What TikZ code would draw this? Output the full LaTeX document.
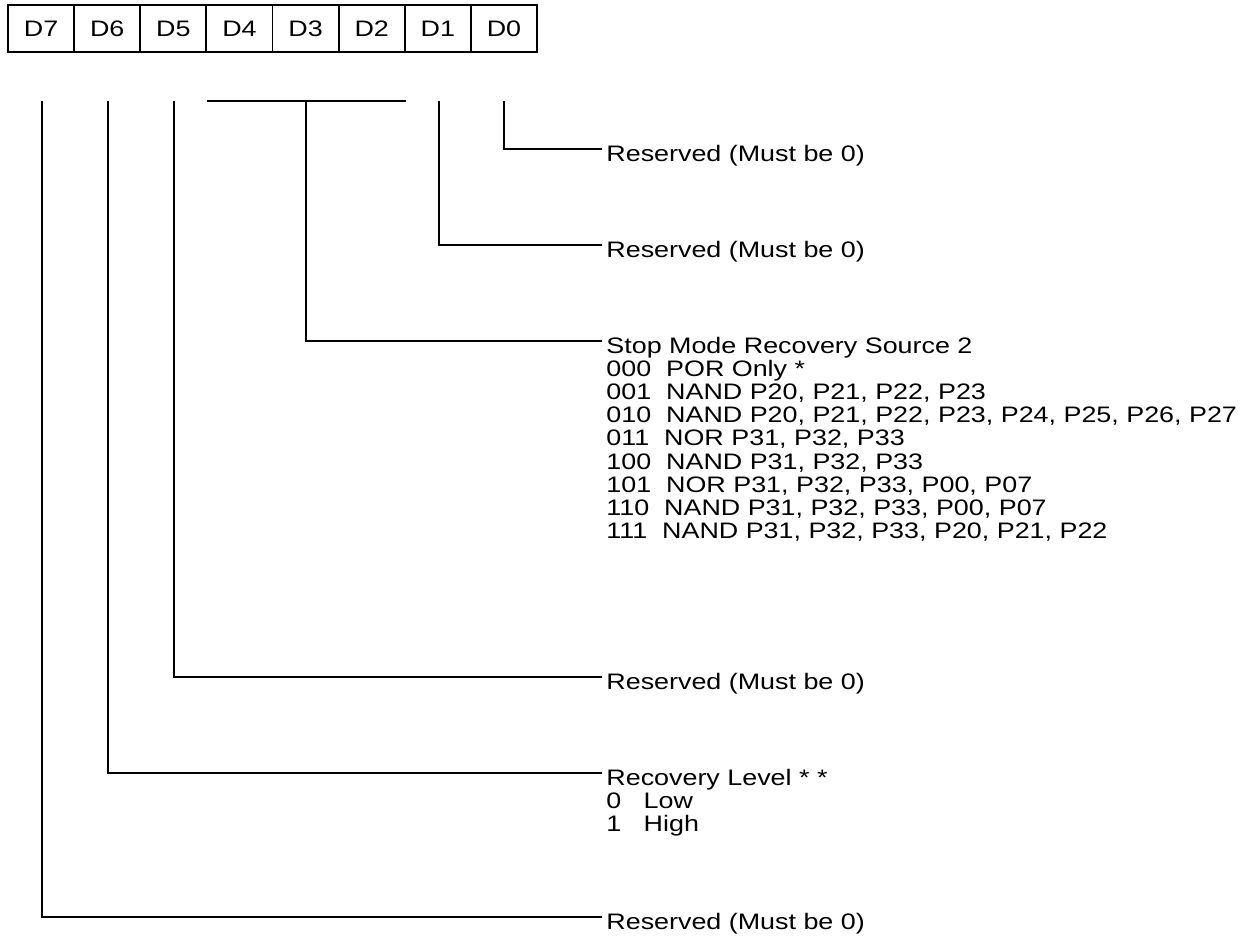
\documentclass[tikz,border=0pt]{standalone}
\usepackage{fontspec}
\setmainfont{Liberation Sans}[FakeStretch=1.2]
\begin{document}
\begin{tikzpicture}[x=0.5pt,y=-0.5pt,
  cell/.style={draw,line width=0.9pt,inner sep=0pt,minimum width=33.06pt,minimum height=23.5pt,font=\fontsize{11.2pt}{11.55pt}\selectfont},
  lbl/.style={inner sep=0pt,anchor=base west,font=\fontsize{11.2pt}{11.55pt}\selectfont},
  conn/.style={line width=0.8pt}]
\useasboundingbox (0,0) rectangle (1246,939);
% register cells
\foreach \n [count=\i from 0] in {7,6,5,4,3,2,1,0}{
  \node[cell] (d\n) at ({8+66.125*\i+33.06},28.5) {D\n};
}
% tops of connectors
\coordinate (t7) at (42,101);
\coordinate (t6) at (108,101);
\coordinate (t5) at (174,101);
\coordinate (b4) at (207,101);
\coordinate (b3) at (306,101);
\coordinate (b2) at (406,101);
\coordinate (t1) at (439,101);
\coordinate (t0) at (504,101);
% labels
\node[lbl] (r0) at (606,161.5) {Reserved (Must be 0)};
\node[lbl] (r1) at (606,257.5) {Reserved (Must be 0)};
\node[lbl] (s) at (606,353.5) {Stop Mode Recovery Source 2};
\node[lbl] (s0) at (606,376.6) {000~~POR Only *};
\node[lbl] (s1) at (606,399.7) {001~~NAND P20, P21, P22, P23};
\node[lbl] (s2) at (606,422.8) {010~~NAND P20, P21, P22, P23, P24, P25, P26, P27};
\node[lbl] (s3) at (606,445.9) {011~~NOR P31, P32, P33};
\node[lbl] (s4) at (606,469.0) {100~~NAND P31, P32, P33};
\node[lbl] (s5) at (606,492.1) {101~~NOR P31, P32, P33, P00, P07};
\node[lbl] (s6) at (606,515.2) {110~~NAND P31, P32, P33, P00, P07};
\node[lbl] (s7) at (606,538.3) {111~~NAND P31, P32, P33, P20, P21, P22};
\node[lbl] (r5) at (606,689.5) {Reserved (Must be 0)};
\node[lbl] (rl) at (606,785.5) {Recovery Level * *};
\node[lbl] (rl0) at (606,808.6) {0~~~Low};
\node[lbl] (rl1) at (606,831.7) {1~~~High};
\node[lbl] (r7) at (606,929.5) {Reserved (Must be 0)};
% connectors
\draw[conn] (t0) |- ([shift={(-2pt,6.25pt)}]r0.base west);
\draw[conn] (t1) |- ([shift={(-2pt,6.25pt)}]r1.base west);
\draw[conn] (b4) -- (b2);
\draw[conn] (b3) |- ([shift={(-2pt,6.25pt)}]s.base west);
\draw[conn] (t5) |- ([shift={(-2pt,6.25pt)}]r5.base west);
\draw[conn] (t6) |- ([shift={(-2pt,6.25pt)}]rl.base west);
\draw[conn] (t7) |- ([shift={(-2pt,6.25pt)}]r7.base west);
\end{tikzpicture}
\end{document}
